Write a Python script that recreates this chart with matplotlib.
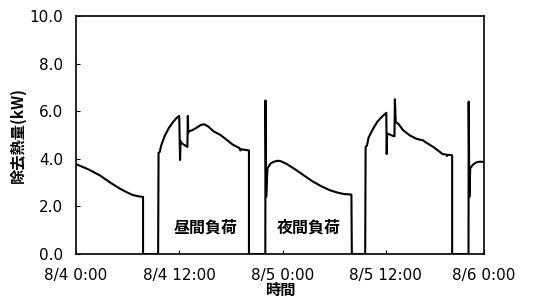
import numpy as np
import matplotlib.pyplot as plt

plt.rcParams['font.family'] = ['Noto Sans CJK JP', 'DejaVu Sans']

# hours from 8/4 0:00, removed heat (kW)
hours = [0.0, 1.5, 2.8, 4.0, 5.1, 6.0, 6.6, 7.2, 7.8, 7.8, 9.55,
         9.6, 9.75, 9.9, 10.3, 10.8, 11.3, 11.7, 12.0, 12.1, 12.15, 12.3,
         12.95, 13.0, 13.05, 13.1, 13.5, 14.0, 14.5, 14.9, 15.4, 16.0,
         16.8, 17.5, 18.2, 19.0, 19.1, 19.2, 19.6, 20.1, 20.1,
         22.0, 22.02, 22.1, 22.25, 22.6, 23.0, 23.5, 23.8, 24.5, 25.5,
         26.5, 27.5, 28.5, 29.5, 30.5, 31.2, 32.0, 32.05,
         33.6, 33.65, 33.8, 34.0, 34.5, 35.0, 35.5, 36.05, 36.1, 36.15,
         36.25, 36.9, 37.0, 37.05, 37.15, 37.5, 38.0, 38.8, 39.5, 40.0,
         40.3, 40.6, 41.5, 42.6, 43.0, 43.1, 43.2, 43.7, 43.7,
         45.6, 45.62, 45.7, 45.8, 46.1, 46.5, 46.9, 47.4]
load = [3.78, 3.55, 3.3, 3.0, 2.75, 2.58, 2.48, 2.43, 2.4, 0.0, 0.0,
        4.25, 4.3, 4.55, 4.95, 5.3, 5.55, 5.72, 5.8, 3.95, 4.75, 4.65,
        4.5, 5.8, 5.1, 5.15, 5.2, 5.3, 5.42, 5.45, 5.35, 5.15,
        5.0, 4.8, 4.6, 4.45, 4.35, 4.4, 4.38, 4.35, 0.0,
        0.0, 6.45, 2.4, 3.6, 3.8, 3.88, 3.92, 3.9, 3.78, 3.55,
        3.3, 3.05, 2.85, 2.68, 2.57, 2.52, 2.5, 0.0,
        0.0, 4.5, 4.55, 4.9, 5.25, 5.55, 5.75, 5.93, 4.2, 5.05,
        5.05, 4.95, 4.95, 6.5, 5.55, 5.45, 5.2, 4.98, 4.85, 4.8,
        4.78, 4.7, 4.5, 4.2, 4.18, 4.12, 4.17, 4.15, 0.0,
        0.0, 6.4, 2.4, 3.6, 3.75, 3.85, 3.88, 3.87]

tick_pos = [0, 12, 24, 36, 47.4]
tick_labels = ['8/4 0:00', '8/4 12:00', '8/5 0:00', '8/5 12:00', '8/6 0:00']
y_ticks = [0, 2, 4, 6, 8, 10]

fig = plt.figure(figsize=(5.5, 3), dpi=100)
ax = fig.add_axes([0.138, 0.153, 0.742, 0.794])
ax.plot(hours, load, color='k', linewidth=1.5)

ax.set_xlim(0, 47.4)
ax.set_ylim(0, 10)
ax.set_xticks(tick_pos)
ax.set_xticklabels(tick_labels)
ax.set_yticks(y_ticks)
ax.set_yticklabels(['%.1f' % v for v in y_ticks])
ax.tick_params(direction='in', length=3, labelsize=11)
ax.tick_params(axis='y', pad=9)
ax.tick_params(axis='x', pad=10)
for lab in ax.get_xticklabels() + ax.get_yticklabels():
    lab.set_family('DejaVu Sans')
for s in ax.spines.values():
    s.set_linewidth(1.2)

ax.set_xlabel('時間', fontsize=11, fontweight='bold', labelpad=-1)
ax.set_ylabel('除去熱量(kW)', fontsize=11, fontweight='bold', labelpad=3)
ax.text(15.1, 1.1, '昼間負荷', fontsize=11.5, ha='center', va='center', fontweight='bold')
ax.text(27.1, 1.1, '夜間負荷', fontsize=11.5, ha='center', va='center', fontweight='bold')

fig.savefig('out.png', dpi=100)
